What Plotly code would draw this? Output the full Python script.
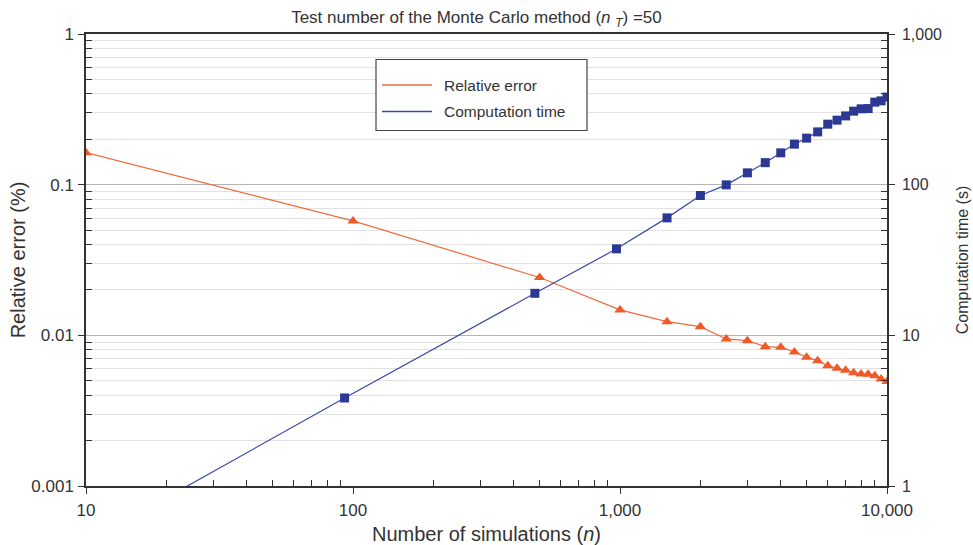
import plotly.graph_objects as go

# ---- data ----
n_err = [10, 100, 500, 1000, 1500, 2000, 2500, 3000, 3500, 4000, 4500, 5000,
         5500, 6000, 6500, 7000, 7500, 8000, 8500, 9000, 9500, 10000]
rel_error = [0.163, 0.0575, 0.0242, 0.01475, 0.01233, 0.01142, 0.00946, 0.00922,
             0.00841, 0.00833, 0.00776, 0.00715, 0.00679, 0.00629, 0.00605, 0.00586,
             0.00565, 0.00554, 0.00551, 0.00540, 0.00513, 0.00493]

n_time = [10, 93, 480, 970, 1500, 2000, 2500, 3000, 3500, 4000, 4500, 5000,
          5500, 6000, 6500, 7000, 7500, 8000, 8500, 9000, 9500, 10000]
comp_time = [0.42, 3.84, 19.0, 37.5, 60.2, 84.7, 99.7, 119.8, 140, 162.6, 185.7, 203.6,
             224, 252, 268, 286, 307.6, 318.7, 320, 353, 360, 381]

x_ticks = [10, 100, 1000, 10000]
x_ticktext = ["10", "100", "1,000", "10,000"]
y1_ticks = [0.001, 0.01, 0.1, 1]
y1_ticktext = ["0.001", "0.01", "0.1", "1"]
y2_ticks = [1, 10, 100, 1000]
y2_ticktext = ["1", "10", "100", "1,000"]

series_names = ["Relative error", "Computation time"]
RED = "#F05A28"
RED_LINE = "#F26A3C"
BLUE = "#2B3894"
BLUE_LINE = "#3A48A8"
TXT = "#333333"
FONT = "Liberation Sans, Arial, sans-serif"


def minor_vals(lo_exp, hi_exp):
    vals = []
    for e in range(lo_exp, hi_exp):
        for d in range(2, 10):
            vals.append(d * 10 ** e)
    return vals


fig = go.Figure()

fig.add_trace(go.Scatter(
    x=n_err, y=rel_error, name=series_names[0], mode="lines+markers",
    line=dict(color=RED_LINE, width=1.2),
    marker=dict(symbol="triangle-up", size=10, color=RED, line=dict(width=0)),
    showlegend=False, yaxis="y"))

fig.add_trace(go.Scatter(
    x=n_time, y=comp_time, name=series_names[1], mode="lines+markers",
    line=dict(color=BLUE_LINE, width=1.2),
    marker=dict(symbol="square", size=9, color=BLUE, line=dict(width=0)),
    showlegend=False, yaxis="y2"))

axis_line = dict(showline=True, linecolor="#333333", linewidth=1.5)

fig.update_layout(
    width=973, height=545,
    margin=dict(l=86, r=86, t=34, b=59, autoexpand=False),
    paper_bgcolor="white", plot_bgcolor="white",
    font=dict(family=FONT, color=TXT),
    title=dict(
        text="Test number of the Monte Carlo method (<i>n</i> <sub><i>T</i></sub>) =50",
        x=0.4897, xanchor="center", xref="container",
        y=1 - 17.5 / 545, yanchor="middle", yref="container",
        font=dict(size=17, color=TXT, family=FONT)),
    xaxis=dict(
        type="log", range=[1, 4], tickvals=x_ticks, ticktext=x_ticktext,
        ticks="outside", ticklen=6, tickcolor="#333333", tickwidth=1.2,
        tickfont=dict(size=17, color=TXT), ticklabelstandoff=2,
        minor=dict(tickvals=minor_vals(1, 4), ticks="inside", ticklen=6,
                   tickcolor="#333333", tickwidth=1, showgrid=False),
        showgrid=False, mirror=True, automargin=False,
        title=dict(text="Number of simulations (<i>n</i>)", font=dict(size=20, color=TXT),
                   standoff=8),
        **axis_line),
    yaxis=dict(
        type="log", range=[-3, 0], tickvals=y1_ticks, ticktext=y1_ticktext,
        ticks="outside", ticklen=6, tickcolor="#333333", tickwidth=1.2,
        tickfont=dict(size=17, color=TXT), ticklabelstandoff=1,
        showgrid=True, gridcolor="#B4B4B4", gridwidth=1,
        minor=dict(tickvals=minor_vals(-3, 0), ticks="inside", ticklen=6,
                   tickcolor="#333333", tickwidth=1,
                   showgrid=True, gridcolor="#E2E2E2", gridwidth=1),
        automargin=False,
        title=dict(text="Relative error (%)", font=dict(size=20, color=TXT), standoff=0),
        **axis_line),
    yaxis2=dict(
        type="log", range=[0, 3], overlaying="y", side="right",
        tickvals=y2_ticks, ticktext=y2_ticktext,
        ticks="outside", ticklen=6, tickcolor="#333333", tickwidth=1.2,
        tickfont=dict(size=16, color=TXT), ticklabelstandoff=4,
        showgrid=False,
        minor=dict(tickvals=minor_vals(0, 3), ticks="inside", ticklen=6,
                   tickcolor="#333333", tickwidth=1, showgrid=False),
        automargin=False,
        title=dict(text="Computation time (s)", font=dict(size=16, color=TXT), standoff=16),
        **axis_line),
)

# ---- legend box (drawn with shapes + text annotations) ----
plot_l, plot_r, plot_t, plot_b = 86, 887, 34, 486


def px_x(px):
    return (px - plot_l) / (plot_r - plot_l)


def px_y(py):
    return (plot_b - py) / (plot_b - plot_t)


fig.add_shape(type="rect", xref="paper", yref="paper",
              x0=px_x(376), x1=px_x(587), y0=px_y(130.5), y1=px_y(59.5),
              line=dict(color="#444444", width=1.2), fillcolor="white", layer="above")

legend_rows = [(85, RED_LINE), (111.5, BLUE_LINE)]
for (py, col), name in zip(legend_rows, series_names):
    fig.add_shape(type="line", xref="paper", yref="paper",
                  x0=px_x(382), x1=px_x(432), y0=px_y(py), y1=px_y(py),
                  line=dict(color=col, width=1.6), layer="above")
    fig.add_annotation(xref="paper", yref="paper", x=px_x(442), y=px_y(py),
                       text=name, showarrow=False, xanchor="left", yanchor="middle",
                       font=dict(size=15.5, color=TXT, family=FONT))

fig.write_html(
    "out.html",
    config={"displayModeBar": False},
    post_script="document.body.style.margin='0';document.body.style.overflow='hidden';")
